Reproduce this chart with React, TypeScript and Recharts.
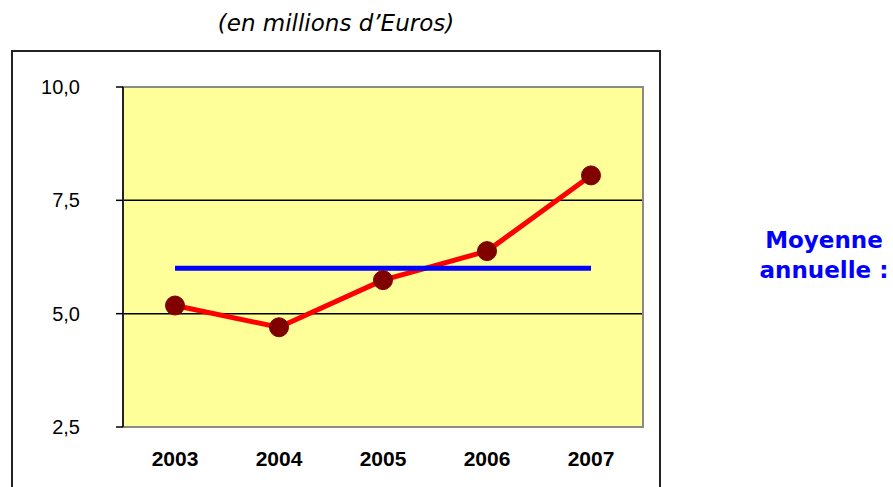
import {
  LineChart,
  Line,
  XAxis,
  YAxis,
  CartesianGrid,
  ReferenceArea,
} from "recharts";

const ANNEES = [2003, 2004, 2005, 2006, 2007];
const MONTANTS = [5.18, 4.7, 5.74, 6.38, 8.05];
const MOYENNE = 6.0;
const Y_TICKS = [2.5, 5, 7.5, 10];
const X_BORNES = [2002.5, 2003.5, 2004.5, 2005.5, 2006.5, 2007.5];

const data = ANNEES.map((annee, i) => ({
  annee,
  montant: MONTANTS[i],
  moyenne: MOYENNE,
}));

const AXIS_FONT = "'Liberation Sans', Arial, sans-serif";
const TITLE_FONT = "'DejaVu Sans', Verdana, sans-serif";

export default function App() {
  return (
    <div
      style={{
        position: "absolute",
        left: 0,
        top: 0,
        width: 893,
        height: 487,
        overflow: "hidden",
        background: "#fff",
      }}
    >
      <div
        style={{
          position: "absolute",
          left: 11,
          top: 50,
          width: 646,
          height: 500,
          border: "2px solid #222",
        }}
      />
      <div
        style={{
          position: "absolute",
          left: 136,
          top: 10,
          width: 400,
          textAlign: "center",
          fontFamily: TITLE_FONT,
          fontStyle: "italic",
          fontSize: 23,
          color: "#000",
        }}
      >
        (en millions d’Euros)
      </div>
      <div
        style={{
          position: "absolute",
          left: 724,
          top: 225,
          width: 200,
          textAlign: "center",
          fontFamily: TITLE_FONT,
          fontWeight: "bold",
          fontSize: 23,
          lineHeight: "30px",
          color: "#0000FF",
        }}
      >
        Moyenne
        <br />
        annuelle :
      </div>
      <div style={{ position: "absolute", left: 0, top: 0 }}>
        <LineChart
          width={893}
          height={487}
          data={data}
          margin={{ top: 87, right: 250, left: 43, bottom: 20 }}
        >
          <CartesianGrid
            xAxisId="bornes"
            vertical={false}
            stroke="#000"
            strokeWidth={1.5}
            fill="#FFFF99"
            fillOpacity={1}
          />
          <ReferenceArea
            xAxisId="annees"
            x1={2002.5}
            x2={2007.5}
            y1={2.5}
            y2={10}
            fill="none"
            stroke="#8a8a8a"
            strokeWidth={2}
            ifOverflow="visible"
          />
          <XAxis
            xAxisId="bornes"
            type="number"
            dataKey="annee"
            domain={[2002.5, 2007.5]}
            ticks={X_BORNES}
            tick={false}
            tickSize={7}
            height={0}
            axisLine={{ stroke: "#000", strokeWidth: 1.5 }}
            tickLine={{ stroke: "#000", strokeWidth: 1.5 }}
          />
          <XAxis
            xAxisId="annees"
            type="number"
            dataKey="annee"
            domain={[2002.5, 2007.5]}
            ticks={ANNEES}
            height={40}
            tickSize={0}
            tickMargin={24}
            axisLine={false}
            tickLine={false}
            interval={0}
            tick={{
              fill: "#000",
              fontSize: 21,
              fontWeight: "bold",
              fontFamily: AXIS_FONT,
            }}
          />
          <YAxis
            width={80}
            domain={[2.5, 10]}
            ticks={Y_TICKS}
            tickSize={7}
            tickMargin={36}
            axisLine={{ stroke: "#000", strokeWidth: 1.5 }}
            tickLine={{ stroke: "#000", strokeWidth: 1.5 }}
            tickFormatter={(v: number) => v.toFixed(1).replace(".", ",")}
            tick={{ fill: "#000", fontSize: 20, fontFamily: AXIS_FONT }}
          />
          <Line
            xAxisId="annees"
            dataKey="montant"
            stroke="#FF0000"
            strokeWidth={5}
            strokeLinejoin="round"
            dot={{ r: 9.5, fill: "#800000", stroke: "#800000", strokeWidth: 1 }}
            activeDot={false}
            isAnimationActive={false}
          />
          <Line
            xAxisId="annees"
            dataKey="moyenne"
            stroke="#0000FF"
            strokeWidth={5}
            strokeLinecap="butt"
            dot={false}
            activeDot={false}
            isAnimationActive={false}
          />
        </LineChart>
      </div>
    </div>
  );
}
